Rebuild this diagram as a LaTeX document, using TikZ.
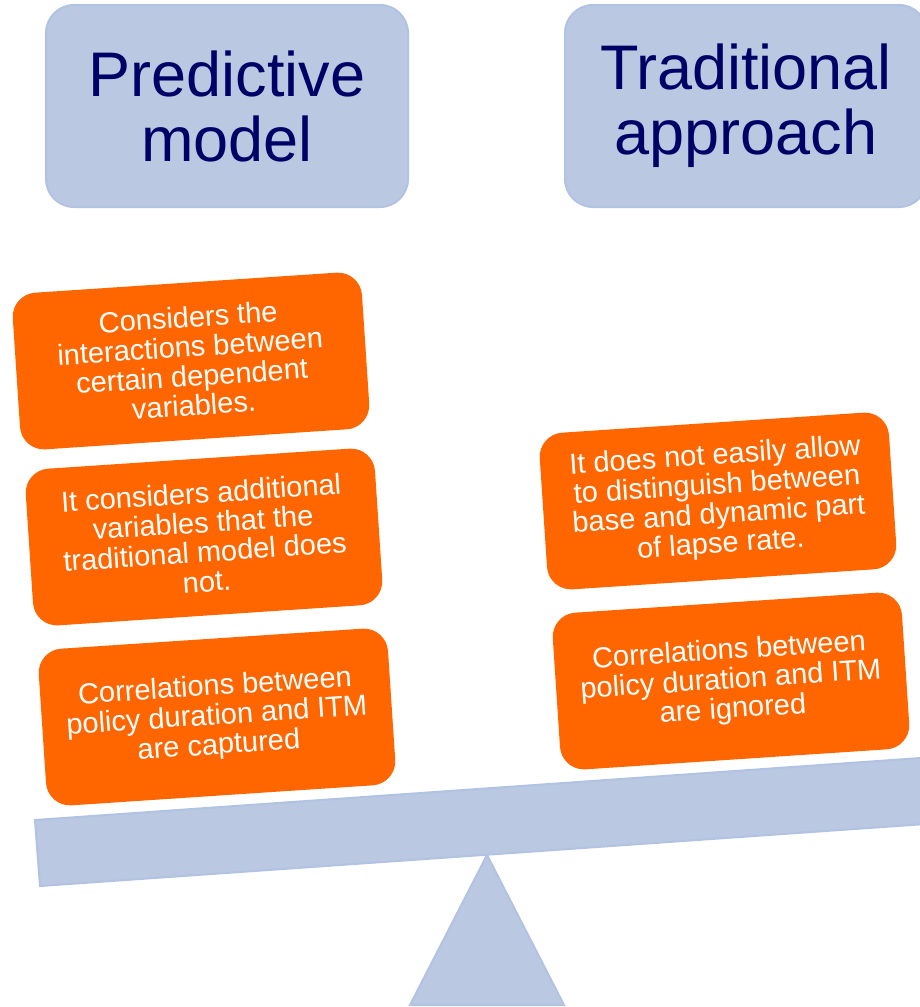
\documentclass[tikz,border=0pt]{standalone}
\usepackage{fontspec}
\setmainfont{Liberation Sans}
\usepackage{tikz}
\usetikzlibrary{positioning}

\definecolor{scaleblue}{RGB}{186,200,226}
\definecolor{scaleedge}{RGB}{178,194,226}
\definecolor{titlenavy}{RGB}{0,0,102}
\definecolor{noteorange}{RGB}{255,102,0}

\begin{document}
\begin{tikzpicture}[x=1pt, y=-1pt,
    title/.style={draw=scaleedge, line width=2pt, fill=scaleblue, rounded corners=28pt, minimum width=362pt, minimum height=202pt, align=center, text=titlenavy, font=\fontsize{63}{65}\selectfont},
    note/.style={fill=noteorange, rounded corners=24pt, minimum width=350pt, minimum height=157pt, inner sep=0pt, align=center, text=white, rotate=3.8, font=\fontsize{29}{29.5}\selectfont}]
    \clip (0,0) rectangle (920,1007);
    % Column headings
    \node[title] (pred) at (227,106) {Predictive\\model};
    \node[title] (trad) at (746,106) {Traditional\\approach};
    % Predictive model arguments
    \node[note] (predA) at (191,361) {Considers the\\interactions between\\certain dependent\\variables.};
    \node[note] (predB) at (204,537) {It considers additional\\variables that the\\traditional model does\\not.};
    \node[note] (predC) at (217,717) {Correlations between\\policy duration and ITM\\are captured};
    % Traditional approach arguments
    \node[note] (tradA) at (718,501) {It does not easily allow\\to distinguish between\\base and dynamic part\\of lapse rate.};
    \node[note] (tradB) at (731,681) {Correlations between\\policy duration and ITM\\are ignored};
    % Balance: beam and pivot
    \draw[draw=scaleedge, line width=2pt, fill=scaleblue] (35,820) -- (935,757) -- (940,823) -- (40,886) -- cycle;
    \draw[draw=scaleedge, line width=2pt, fill=scaleblue] (487,855) -- (564,1005) -- (410,1005) -- cycle;
\end{tikzpicture}
\end{document}
